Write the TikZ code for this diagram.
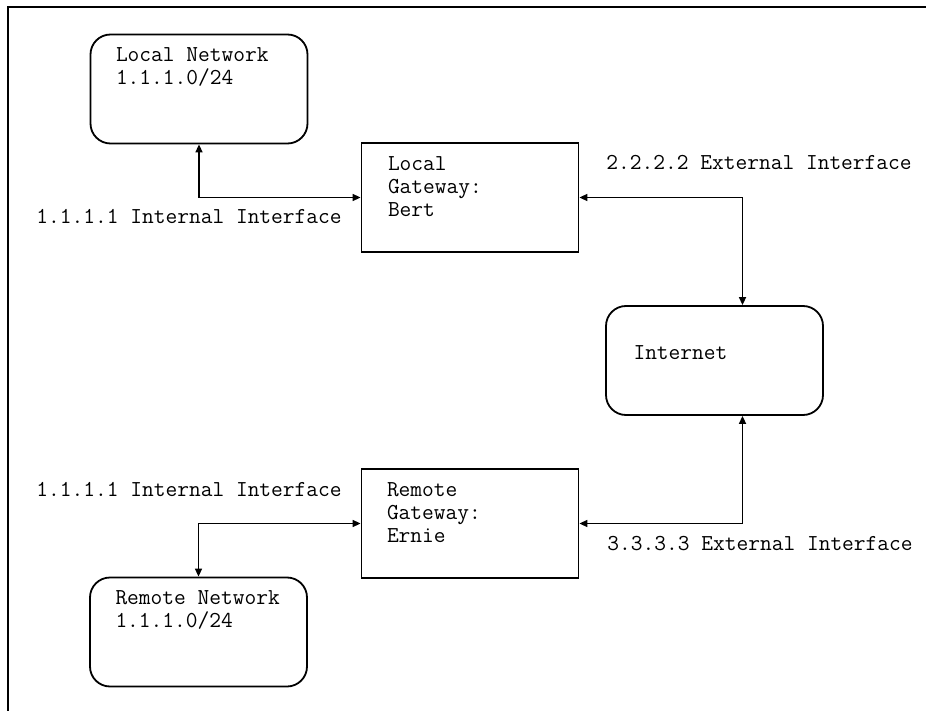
\documentclass[tikz,border=0pt]{standalone}
\usepackage{fontspec}
\usetikzlibrary{arrows.meta}

\begin{document}
\begin{tikzpicture}[x=0.5pt,y=-0.5pt,
  net/.style={draw,line width=0.9pt,rounded corners=10pt,minimum width=108.5pt,minimum height=54.5pt,inner sep=0pt},
  gw/.style={draw,line width=0.9pt,minimum width=108.5pt,minimum height=54.5pt,inner sep=0pt},
  txt/.style={font=\ttfamily\fontsize{11.4}{11.5}\selectfont,inner sep=0pt,anchor=base west,align=left},
  link/.style={line width=0.8pt,{Triangle[length=4pt,width=3.5pt]}-{Triangle[length=4pt,width=3.5pt]}}]
\useasboundingbox (0,0) rectangle (926,711);

%frame
\draw[line width=1pt] (8,711)--(8,7)--(926,7);

%boxes
\node[net] (lan) at (199,89) {};
\node[gw] (bert) at (470,197.5) {};
\node[net] (inet) at (714.5,360.5) {};
\node[gw] (ernie) at (470,523.5) {};
\node[net] (rlan) at (198.5,632) {};

%box texts (base = last line)
\node[txt] (lantxt) at ([shift={(13pt,-25.5pt)}]lan.north west) {Local Network\\1.1.1.0/24};
\node[txt] (berttxt) at ([shift={(13.5pt,-37pt)}]bert.north west) {Local\\Gateway:\\Bert};
\node[txt] (inettxt) at ([shift={(14pt,-27pt)}]inet.north west) {Internet};
\node[txt] (ernietxt) at ([shift={(13pt,-37pt)}]ernie.north west) {Remote\\Gateway:\\Ernie};
\node[txt] (rlantxt) at ([shift={(13pt,-25.5pt)}]rlan.north west) {Remote Network\\1.1.1.0/24};

%interface labels
\node[txt] (intup) at (36,224) {1.1.1.1 Internal Interface};
\node[txt] (extup) at (606,170) {2.2.2.2 External Interface};
\node[txt] (intdown) at (36,496) {1.1.1.1 Internal Interface};
\node[txt] (extdown) at (607,550) {3.3.3.3 External Interface};

%links
\draw[link] (lan.south) |- (bert.west);
\draw[link] (bert.east) -| ([xshift=14pt]inet.north);
\draw[link] ([xshift=14pt]inet.south) |- (ernie.east);
\draw[link] (ernie.west) -| (rlan.north);
\end{tikzpicture}
\end{document}
